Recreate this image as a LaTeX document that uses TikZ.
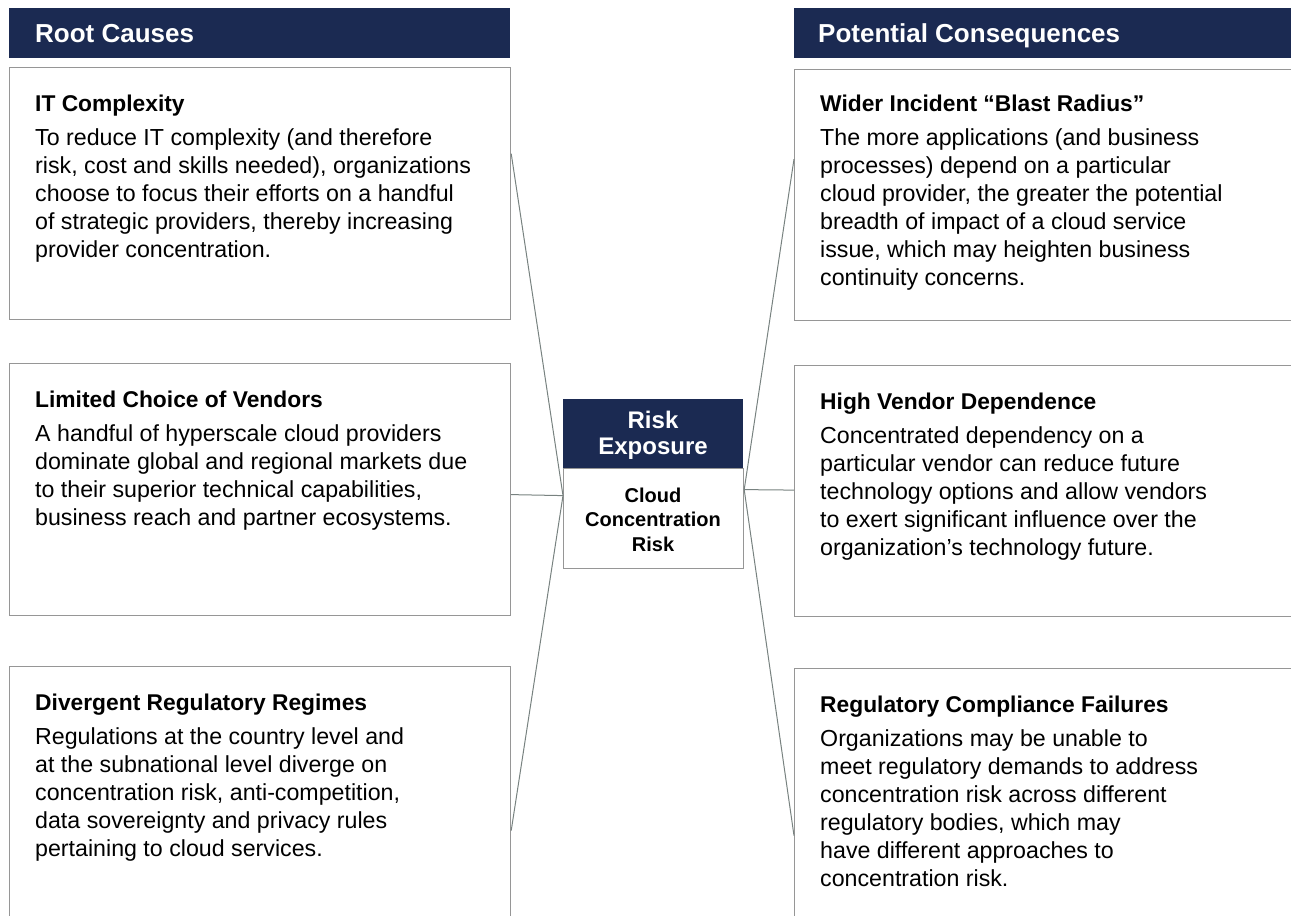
\documentclass[tikz,border=0pt]{standalone}
\usepackage{fontspec}
\setmainfont{Liberation Sans}
\definecolor{navy}{RGB}{27,42,82}
\definecolor{boxgray}{RGB}{150,150,150}
\definecolor{linegray}{RGB}{120,130,128}
\tikzset{
  hdr/.style={fill=navy, draw=none, inner sep=0pt, anchor=north west},
  hdrtext/.style={text=white, font=\fontsize{26}{28}\selectfont\bfseries, anchor=base west, inner sep=0pt},
  card/.style={draw=boxgray, line width=1.2pt, fill=white, inner sep=0pt, anchor=north west},
  cardtext/.style={anchor=base west, inner sep=0pt, align=left, font=\fontsize{23.2}{28}\selectfont},
  link/.style={draw=linegray, line width=1pt},
}
\newcommand{\ttl}[1]{{\fontsize{22.8}{28}\selectfont\bfseries #1}}
\begin{document}
\begin{tikzpicture}[x=1pt,y=-1pt]
\useasboundingbox (0,0) rectangle (1291,916);
\clip (0,0) rectangle (1291,916);
% headers
\node[hdr, minimum width=501pt, minimum height=50pt] (hl) at (9,8) {};
\node[hdrtext] (hlt) at (35,42.5) {Root Causes};
\node[hdr, minimum width=510pt, minimum height=50pt] (hr) at (794,8) {};
\node[hdrtext] (hrt) at (818,42.5) {Potential Consequences};
% left cards
\node[card, minimum width=501pt, minimum height=252pt] (l1) at (9,67) {};
\node[card, minimum width=501pt, minimum height=252pt] (l2) at (9,363) {};
\node[card, minimum width=501pt, minimum height=260pt] (l3) at (9,666) {};
% right cards
\node[card, minimum width=510pt, minimum height=251pt] (r1) at (794,69) {};
\node[card, minimum width=510pt, minimum height=251pt] (r2) at (794,365) {};
\node[card, minimum width=510pt, minimum height=260pt] (r3) at (794,668) {};
% texts (anchor = baseline of last line)
\node[cardtext] (l1t) at (35,257) {\ttl{IT Complexity}\\[6pt]
To reduce IT complexity (and therefore\\
risk, cost and skills needed), organizations\\
choose to focus their efforts on a handful\\
of strategic providers, thereby increasing\\
provider concentration.};
\node[cardtext] (l2t) at (35,525) {\ttl{Limited Choice of Vendors}\\[6pt]
A handful of hyperscale cloud providers\\
dominate global and regional markets due\\
to their superior technical capabilities,\\
business reach and partner ecosystems.};
\node[cardtext] (l3t) at (35,856) {\ttl{Divergent Regulatory Regimes}\\[6pt]
Regulations at the country level and\\
at the subnational level diverge on\\
concentration risk, anti-competition,\\
data sovereignty and privacy rules\\
pertaining to cloud services.};
\node[cardtext] (r1t) at (820,285) {\ttl{Wider Incident “Blast Radius”}\\[6pt]
The more applications (and business\\
processes) depend on a particular\\
cloud provider, the greater the potential\\
breadth of impact of a cloud service\\
issue, which may heighten business\\
continuity concerns.};
\node[cardtext] (r2t) at (820,555) {\ttl{High Vendor Dependence}\\[6pt]
Concentrated dependency on a\\
particular vendor can reduce future\\
technology options and allow vendors\\
to exert significant influence over the\\
organization’s technology future.};
\node[cardtext] (r3t) at (820,886) {\ttl{Regulatory Compliance Failures}\\[6pt]
Organizations may be unable to\\
meet regulatory demands to address\\
concentration risk across different\\
regulatory bodies, which may\\
have different approaches to\\
concentration risk.};
% center
\node[hdr, minimum width=180pt, minimum height=69pt] (rex) at (563,399) {};
\node[text=white, align=center, inner sep=0pt, anchor=base, font=\fontsize{24}{26}\selectfont\bfseries] (rext) at (653,454) {Risk\\Exposure};
\node[card, minimum width=180pt, minimum height=100pt] (ccr) at (563,468) {};
\node[align=center, inner sep=0pt, anchor=base, font=\fontsize{20}{24.2}\selectfont\bfseries] (ccrt) at (653,551) {Cloud\\Concentration\\Risk};
% connectors
\draw[link] ([yshift=40pt]l1.east) -- ([yshift=23pt]ccr.west);
\draw[link] ([yshift=-5pt]l2.east) -- ([yshift=23pt]ccr.west);
\draw[link] ([yshift=-34pt]l3.east) -- ([yshift=23pt]ccr.west);
\draw[link] ([yshift=29pt]ccr.east) -- ([yshift=36pt]r1.west);
\draw[link] ([yshift=29pt]ccr.east) -- ([yshift=1pt]r2.west);
\draw[link] ([yshift=29pt]ccr.east) -- ([yshift=-37pt]r3.west);
\end{tikzpicture}
\end{document}
